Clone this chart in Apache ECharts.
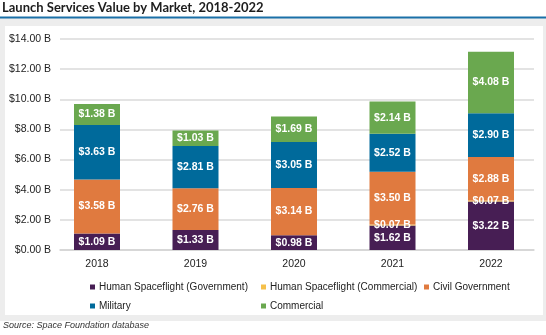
<!DOCTYPE html>
<html><head><meta charset="utf-8">
<script src="https://cdn.jsdelivr.net/npm/echarts@6/dist/echarts.min.js"></script>
<style>html,body{margin:0;padding:0;background:#fff}#c{width:546px;height:335px}</style>
</head><body><div id="c"></div>
<script>
const categories = ['2018','2019','2020','2021','2022'];
const hsGov = [1.09, 1.33, 0.98, 1.62, 3.22];
const hsCom = [0, 0, 0, 0.07, 0.07];
const civilGov = [3.58, 2.76, 3.14, 3.50, 2.88];
const military = [3.63, 2.81, 3.05, 2.52, 2.90];
const commercial = [1.38, 1.03, 1.69, 2.14, 4.08];
const yTicks = [0, 2, 4, 6, 8, 10, 12, 14];
const seriesNames = ['Human Spaceflight (Government)','Human Spaceflight (Commercial)','Civil Government','Military','Commercial'];
const colors = ['#471e54','#f5c04a','#e07a3f','#006a9b','#6aa84f'];

const sans = '"Liberation Sans", Arial, sans-serif';
const chart = echarts.init(document.getElementById('c'));
const dataSets = [hsGov, hsCom, civilGov, military, commercial];
const fmt = v => '$' + v.toFixed(2) + ' B';

const legendPos = [[90,282],[261,282],[424,282],[90,301],[261,301]];

chart.setOption({
  animation: false,
  title: {text: 'Launch Services Value by Market, 2018-2022', left: 2, top: 1, padding: 0,
    textStyle: {fontFamily: 'Lato, sans-serif', fontSize: 13, fontWeight: 'bold', color: '#1d1d1d'}},
  graphic: [
    {type: 'rect', shape: {x: 0, y: 18, width: 546, height: 303}, style: {fill: '#ededed'}, z: -10},
    {type: 'rect', shape: {x: 5, y: 26, width: 538, height: 289}, style: {fill: '#ffffff'}, z: -9},
    {type: 'line', shape: {x1: 0, y1: 17.5, x2: 546, y2: 17.5}, style: {stroke: '#1a70a8', lineWidth: 1.8}, z: -8},
    {type: 'text', left: 3, top: 321, style: {text: 'Source: Space Foundation database', fill: '#333', font: 'italic 9px "Liberation Sans", sans-serif'}}
  ],
  legend: seriesNames.map((n, i) => ({
    data: [n], left: legendPos[i][0], top: legendPos[i][1], icon: 'rect', itemWidth: 5, itemHeight: 5, itemGap: 4,
    selectedMode: false, padding: 0,
    textStyle: {fontFamily: sans, fontSize: 10, color: '#222', padding: [0,0,0,-1]}
  })),
  grid: [
    {left: 60, right: 12, top: 39, bottom: 85},
    {left: 47.75, right: 5.75, top: 39, bottom: 85}
  ],
  xAxis: [
    {type: 'category', gridIndex: 0, data: categories, axisTick: {show: false}, axisLabel: {show: false},
     axisLine: {lineStyle: {color: '#d4d4d4', width: 1.5}}},
    {type: 'category', gridIndex: 1, data: categories, axisTick: {show: false}, axisLine: {show: false},
     axisLabel: {fontFamily: sans, fontSize: 10.5, color: '#222', margin: 9}}
  ],
  yAxis: [
    {type: 'value', gridIndex: 0, min: 0, max: 14, interval: 2, axisLine: {show: false}, axisTick: {show: false},
     splitLine: {lineStyle: {color: '#dadada', width: 1.5}},
     axisLabel: {fontFamily: sans, fontSize: 10.5, color: '#222', margin: 9, formatter: v => '$' + v.toFixed(2) + ' B'}},
    {type: 'value', gridIndex: 1, min: 0, max: 14, interval: 2, show: false, splitLine: {show: false}}
  ],
  series: seriesNames.map((n, i) => ({
    name: n, type: 'bar', stack: 'total', xAxisIndex: 1, yAxisIndex: 1, barWidth: 46,
    itemStyle: {color: colors[i]},
    data: dataSets[i],
    label: {show: true, position: 'inside', color: '#fff', fontFamily: sans, fontSize: 10.5, fontWeight: 'bold',
      formatter: p => p.value > 0 ? fmt(p.value) : ''}
  }))
});
</script></body></html>
